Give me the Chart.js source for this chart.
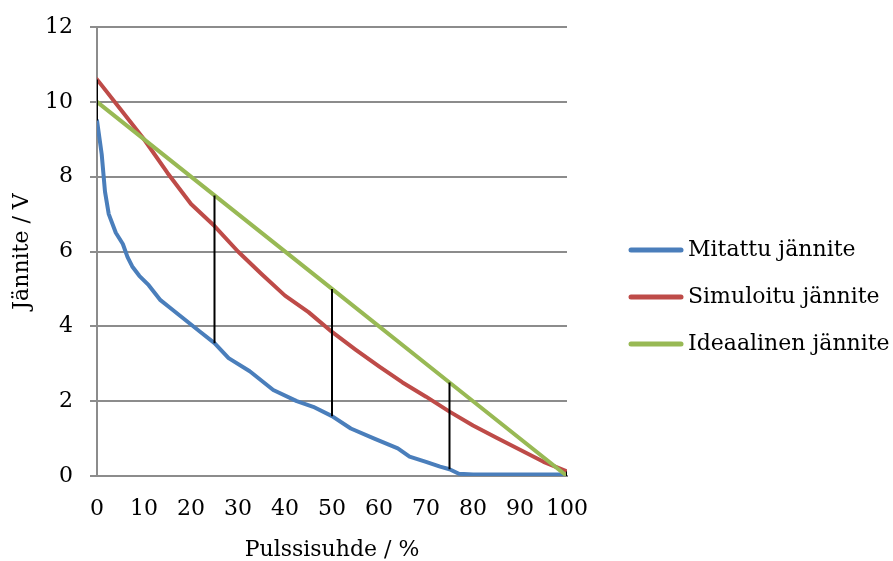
<!DOCTYPE html>
<html>
<head>
<meta charset="utf-8">
<script src="https://cdn.jsdelivr.net/npm/chart.js@4/dist/chart.umd.min.js"></script>
<style>
  html, body { margin: 0; padding: 0; background: #ffffff; }
  #wrap { width: 893px; height: 561px; position: relative; }
</style>
</head>
<body>
<div id="wrap"><canvas id="c" width="893" height="561"></canvas></div>
<script>
// Pulse ratio (%) and voltage (V) readings for each curve
const measuredX = [0, 1, 1.7, 2.5, 4, 5.5, 6.5, 7.5, 9, 11, 13.5, 16, 18, 20, 22, 25, 28, 32.5, 37.5, 42.5, 46, 50, 54, 59, 64, 66.5, 70, 73, 75, 77, 80, 90, 100];
const measuredV = [9.5, 8.6, 7.6, 7.0, 6.5, 6.2, 5.85, 5.6, 5.35, 5.1, 4.7, 4.45, 4.25, 4.05, 3.85, 3.55, 3.15, 2.8, 2.3, 2.0, 1.85, 1.6, 1.27, 1.0, 0.74, 0.52, 0.38, 0.25, 0.18, 0.06, 0.04, 0.04, 0.04];

const simulatedX = [0, 5, 10, 15, 20, 25, 30, 35, 40, 45, 50, 55, 60, 65, 70, 75, 80, 85, 90, 95, 100];
const simulatedV = [10.6, 9.8, 9.0, 8.1, 7.27, 6.68, 6.0, 5.4, 4.82, 4.38, 3.85, 3.38, 2.93, 2.5, 2.12, 1.72, 1.35, 1.02, 0.7, 0.38, 0.12];

const idealX = [0, 25, 50, 75, 100];
const idealV = [10, 7.5, 5, 2.5, 0];

const seriesLabels = ['Mitattu jännite', 'Simuloitu jännite', 'Ideaalinen jännite'];
const seriesColors = ['#4A7EBB', '#BE4B48', '#98B954'];

const xTitle = 'Pulssisuhde / %';
const yTitle = 'Jännite / V';

// High-low connectors are drawn at these pulse ratios
const hiLoX = [0, 25, 50, 75, 100];

const FONT = '"DejaVu Serif", "Liberation Serif", serif';
const FONT_SIZE = 22;

function pts(xs, ys) { return xs.map((x, i) => ({ x: x, y: ys[i] })); }
function valueAt(xs, ys, x) { const i = xs.indexOf(x); return i >= 0 ? ys[i] : null; }

const hiLoData = [];
hiLoX.forEach(x => {
  const vals = [valueAt(measuredX, measuredV, x), valueAt(simulatedX, simulatedV, x), valueAt(idealX, idealV, x)].filter(v => v !== null);
  hiLoData.push({ x: x, y: Math.min(...vals) });
  hiLoData.push({ x: x, y: Math.max(...vals) });
  hiLoData.push({ x: x, y: null });
});

const lineDefaults = { showLine: true, pointRadius: 0, borderWidth: 4, borderJoinStyle: 'round', borderCapStyle: 'round', tension: 0, fill: false };

// Legend drawn on the canvas to the right of the plot
const sideLegend = {
  id: 'sideLegend',
  afterDraw(chart) {
    const ctx = chart.ctx;
    ctx.save();
    ctx.font = FONT_SIZE + 'px ' + FONT;
    ctx.textBaseline = 'middle';
    ctx.fillStyle = '#000000';
    seriesLabels.forEach((lab, i) => {
      const y = 250 + i * 47;
      ctx.strokeStyle = seriesColors[i];
      ctx.lineWidth = 5;
      ctx.lineCap = 'round';
      ctx.beginPath();
      ctx.moveTo(631, y);
      ctx.lineTo(681, y);
      ctx.stroke();
      ctx.fillText(lab, 688, y);
    });
    ctx.restore();
  }
};

new Chart(document.getElementById('c'), {
  type: 'scatter',
  data: {
    datasets: [
      Object.assign({}, lineDefaults, { label: 'hilo', data: hiLoData, borderColor: '#000000', borderWidth: 2, borderCapStyle: 'butt', spanGaps: false, order: 0 }),
      Object.assign({}, lineDefaults, { label: seriesLabels[2], data: pts(idealX, idealV), borderColor: seriesColors[2], order: 1 }),
      Object.assign({}, lineDefaults, { label: seriesLabels[1], data: pts(simulatedX, simulatedV), borderColor: seriesColors[1], order: 2 }),
      Object.assign({}, lineDefaults, { label: seriesLabels[0], data: pts(measuredX, measuredV), borderColor: seriesColors[0], order: 3 })
    ]
  },
  options: {
    responsive: false,
    animation: false,
    layout: { padding: { top: 27, right: 326, left: 0, bottom: 0 } },
    plugins: { legend: { display: false }, tooltip: { enabled: false } },
    scales: {
      x: {
        type: 'linear', min: 0, max: 100,
        afterFit(scale) { scale.height = 85; scale.paddingTop = 0; scale.paddingBottom = 0; },
        ticks: { stepSize: 10, padding: 20, maxRotation: 0, minRotation: 0, autoSkip: false, color: '#000000', font: { family: FONT, size: FONT_SIZE } },
        grid: { display: false, drawTicks: false },
        border: { display: true, color: '#8c8c8c', width: 2 },
        title: { display: true, text: xTitle, color: '#000000', font: { family: FONT, size: FONT_SIZE, lineHeight: 1.0 }, padding: { top: 0, bottom: 0 } }
      },
      y: {
        type: 'linear', min: 0, max: 12,
        afterFit(scale) { scale.width = 97; scale.paddingTop = 0; scale.paddingBottom = 0; },
        ticks: { stepSize: 2, padding: 17, color: '#000000', font: { family: FONT, size: FONT_SIZE } },
        grid: { color: '#8c8c8c', lineWidth: 2, tickLength: 7, drawTicks: true },
        border: { display: true, color: '#8c8c8c', width: 2 },
        title: { display: true, text: yTitle, color: '#000000', font: { family: FONT, size: FONT_SIZE, lineHeight: 1.2 }, padding: { top: 9, bottom: 0 } }
      }
    }
  },
  plugins: [sideLegend]
});
</script>
</body>
</html>
